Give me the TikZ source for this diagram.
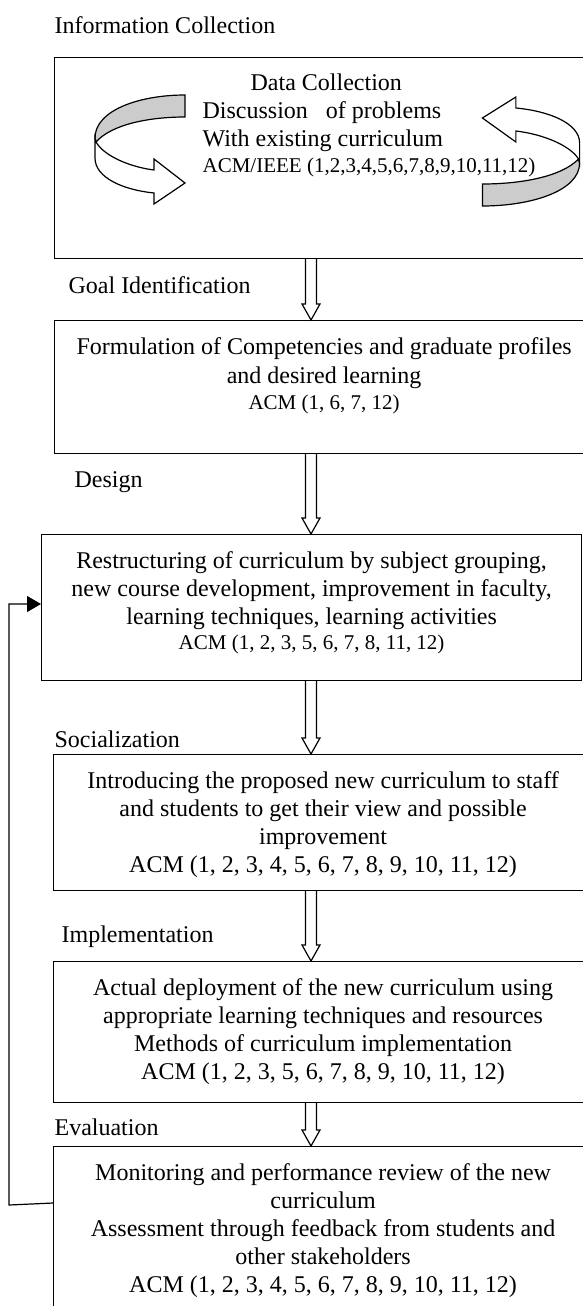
\documentclass[tikz,border=0pt]{standalone}
\usepackage{fontspec}
\setmainfont{Liberation Serif}
\usetikzlibrary{positioning,arrows.meta,calc}

\begin{document}
\begin{tikzpicture}[x=0.5pt,y=-0.5pt,line width=0.6pt,
    box/.style={draw,anchor=north west,inner sep=0pt,minimum width=269.5pt},
    txt/.style={anchor=north,align=center,inner sep=0pt,font=\fontsize{12pt}{14pt}\selectfont},
    stage/.style={anchor=base west,inner sep=0pt,font=\fontsize{12pt}{14pt}\selectfont},
    fback/.style={-{Triangle[length=7pt,width=8pt]}},
    band/.style={draw,fill=black!20},
    looparrow/.pic={
      % back of the ribbon
      \path[band] (45,-55) .. controls (0,-55) and (-45,-40) .. (-45,-12) -- (-44,-8)
        .. controls (-28,-26) and (10,-33) .. (45,-33) -- cycle;
      % front of the ribbon with its head
      \path[draw,fill=white] (-45,-12) -- (-44,-8) .. controls (-36,6) and (-10,17) .. (14,20)
        -- (14,9) -- (45,33) -- (14,54) -- (14,43)
        .. controls (-16,40) and (-45,28) .. (-45,8) -- cycle;
    }]
\newcommand{\blockarrow}[2]{%
  \draw let \p1=(#1), \p2=(#2) in
    (\x1-2.75pt,\y1) -- (\x1-2.75pt,\y2+8pt) -- (\x1-4.5pt,\y2+8pt) -- (\x1,\y2)
    -- (\x1+4.5pt,\y2+8pt) -- (\x1+2.75pt,\y2+8pt) -- (\x1+2.75pt,\y1);}
\useasboundingbox (0,0) rectangle (583,1306);
\clip (0,0) rectangle (583,1306);
\fill[white] (0,0) rectangle (583,1306);

% boxes
\node[box,minimum height=100.5pt] (b1) at (54,57) {};
\node[box,minimum height=66.5pt] (b2) at (54,320) {};
\node[box,minimum height=73pt,minimum width=270pt] (b3) at (41,534) {};
\node[box,minimum height=68pt] (b4) at (53,754) {};
\node[box,minimum height=70.5pt] (b5) at (53,961) {};
\node[box,minimum height=87pt] (b6) at (53,1146) {};

% stage names
\node[stage] (s1) at (54,33) {Information Collection};
\node[stage] (s2) at (68,293) {Goal Identification};
\node[stage] (s3) at (74,487) {Design};
\node[stage] (s4) at (54,747) {Socialization};
\node[stage] (s5) at (61,942) {Implementation};
\node[stage] (s6) at (54,1135) {Evaluation};

% circular arrows
\pic at (140,150) {looparrow};
\pic[xscale=-1.08,yscale=-1] at (531,151) {looparrow};

% box texts
\node[txt,anchor=north west,align=left] (t1) at ([xshift=74pt,yshift=-8.25pt]b1.north west)
  {\hspace*{24pt}Data Collection\\Discussion\ \ \ of problems\\With existing curriculum\\[-1pt]
   {\fontsize{10.5pt}{13pt}\selectfont ACM/IEEE (1,2,3,4,5,6,7,8,9,10,11,12)}};
\node[txt] (t2) at ([yshift=-8.25pt]b2.north)
  {Formulation of Competencies and graduate profiles\\[0.5pt]and desired learning\\[-1pt]
   {\fontsize{10.5pt}{13pt}\selectfont ACM (1, 6, 7, 12)}};
\node[txt] (t3) at ([yshift=-8.25pt]b3.north)
  {Restructuring of curriculum by subject grouping,\\new course development, improvement in faculty,\\learning techniques, learning activities\\[-1.5pt]
   {\fontsize{10.5pt}{13pt}\selectfont ACM (1, 2, 3, 5, 6, 7, 8, 11, 12)}};
\node[txt] (t4) at ([yshift=-8.25pt]b4.north)
  {Introducing the proposed new curriculum to staff\\and students to get their view and possible\\improvement\\ACM (1, 2, 3, 4, 5, 6, 7, 8, 9, 10, 11, 12)};
\node[txt] (t5) at ([yshift=-8.25pt]b5.north)
  {Actual deployment of the new curriculum using\\appropriate learning techniques and resources\\Methods of curriculum implementation\\ACM (1, 2, 3, 5, 6, 7, 8, 9, 10, 11, 12)};
\node[txt] (t6) at ([yshift=-8.25pt]b6.north)
  {Monitoring and performance review of the new\\curriculum\\Assessment through feedback from students and\\other stakeholders\\ACM (1, 2, 3, 4, 5, 6, 7, 8, 9, 10, 11, 12)};

% flow arrows
\coordinate (ax) at (311,0);
\blockarrow{b1.south -| ax}{b2.north -| ax}
\blockarrow{b2.south -| ax}{b3.north -| ax}
\blockarrow{b3.south -| ax}{b4.north -| ax}
\blockarrow{b4.south -| ax}{b5.north -| ax}
\blockarrow{b5.south -| ax}{b6.north -| ax}

% feedback
\coordinate (fb1) at (9,1205);
\coordinate (fb2) at (9,604);
\draw[fback] ([yshift=-28.5pt]b6.north west) -- (fb1) -- (fb2) -- (fb2 -| b3.west);
\end{tikzpicture}
\end{document}
